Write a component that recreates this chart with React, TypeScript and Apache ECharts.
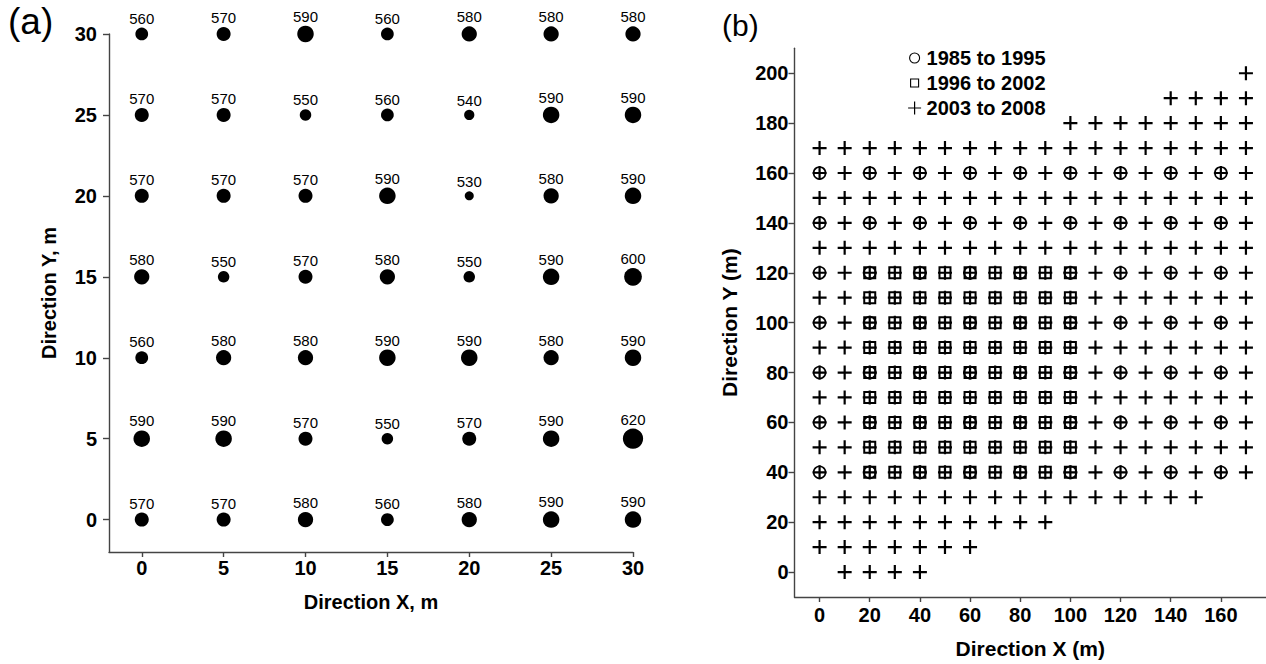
import React, { useEffect, useRef } from "react";
import * as echarts from "echarts";

const FONT = '"Liberation Sans", Arial, Helvetica, sans-serif';

// ---------- Panel (a) ----------
const aXs = [0, 5, 10, 15, 20, 25, 30];
const aTicks = [0, 5, 10, 15, 20, 25, 30];
// values per row (y), columns follow aXs
const aRowY = [30, 25, 20, 15, 10, 5, 0];
const aRow30 = [560, 570, 590, 560, 580, 580, 580];
const aRow25 = [570, 570, 550, 560, 540, 590, 590];
const aRow20 = [570, 570, 570, 590, 530, 580, 590];
const aRow15 = [580, 550, 570, 580, 550, 590, 600];
const aRow10 = [560, 580, 580, 590, 590, 580, 590];
const aRow5 = [590, 590, 570, 550, 570, 590, 620];
const aRow0 = [570, 570, 580, 560, 580, 590, 590];
const aRows = [aRow30, aRow25, aRow20, aRow15, aRow10, aRow5, aRow0];

// ---------- Panel (b) ----------
const bXTicks = [0, 20, 40, 60, 80, 100, 120, 140, 160];
const bYTicks = [0, 20, 40, 60, 80, 100, 120, 140, 160, 180, 200];

const circleXs = [0, 20, 40, 60, 80, 100, 120, 140, 160];
const circleYs = [40, 60, 80, 100, 120, 140, 160];

const squareXs = [20, 30, 40, 50, 60, 70, 80, 90, 100];
const squareYs = [40, 50, 60, 70, 80, 90, 100, 110, 120];

const fullRow = [0, 10, 20, 30, 40, 50, 60, 70, 80, 90, 100, 110, 120, 130, 140, 150, 160, 170];
const plusRows: [number, number[]][] = [
  [0, [10, 20, 30, 40]],
  [10, [0, 10, 20, 30, 40, 50, 60]],
  [20, [0, 10, 20, 30, 40, 50, 60, 70, 80, 90]],
  [30, [0, 10, 20, 30, 40, 50, 60, 70, 80, 90, 100, 110, 120, 130, 140, 150]],
  [40, fullRow],
  [50, fullRow],
  [60, fullRow],
  [70, fullRow],
  [80, fullRow],
  [90, fullRow],
  [100, fullRow],
  [110, fullRow],
  [120, fullRow],
  [130, fullRow],
  [140, fullRow],
  [150, fullRow],
  [160, fullRow],
  [170, fullRow],
  [180, [100, 110, 120, 130, 140, 150, 160, 170]],
  [190, [140, 150, 160, 170]],
  [200, [170]],
];

const legendNames = ["1985 to 1995", "1996 to 2002", "2003 to 2008"];

function cross(xs: number[], ys: number[]) {
  const out: number[][] = [];
  ys.forEach((y) => xs.forEach((x) => out.push([x, y])));
  return out;
}

export default function App() {
  const ref = useRef<HTMLDivElement>(null);

  useEffect(() => {
    if (!ref.current) return;
    const chart = echarts.init(ref.current, null, { renderer: "svg" });

    const aData: number[][] = [];
    aRows.forEach((row, i) => row.forEach((v, j) => aData.push([aXs[j], aRowY[i], v])));

    const plusData: number[][] = [];
    plusRows.forEach(([y, xs]) => xs.forEach((x) => plusData.push([x, y])));

    const axisLine = { show: true, onZero: false, lineStyle: { color: "#444", width: 1.4 } };
    const tickLabel = { fontSize: 20, fontWeight: "bold" as const, color: "#000", fontFamily: FONT };
    const nameStyle = { fontSize: 20, fontWeight: "bold" as const, color: "#000", fontFamily: FONT };

    const option: any = {
      animation: false,
      backgroundColor: "#fff",
      textStyle: { fontFamily: FONT },
      grid: [
        { left: 109, top: 34, width: 524, height: 518 },
        { left: 794.5, top: 48.3, width: 471.5, height: 551.7 },
      ],
      xAxis: [
        {
          gridIndex: 0,
          type: "value",
          min: -2,
          max: 30,
          axisLine,
          axisTick: { show: true, customValues: aTicks, length: 5, lineStyle: { color: "#444", width: 1.4 } },
          axisLabel: { ...tickLabel, customValues: aTicks, margin: 6 },
          splitLine: { show: false },
          name: "Direction X, m",
          nameLocation: "middle",
          nameGap: 40,
          nameTextStyle: nameStyle,
        },
        {
          gridIndex: 1,
          type: "value",
          min: -10,
          max: 178,
          axisLine,
          axisTick: { show: true, customValues: bXTicks, length: 5, lineStyle: { color: "#444", width: 1.4 } },
          axisLabel: { ...tickLabel, customValues: bXTicks, margin: 8 },
          splitLine: { show: false },
          name: "Direction X (m)",
          nameLocation: "middle",
          nameGap: 41,
          nameTextStyle: { ...nameStyle, fontSize: 21 },
        },
      ],
      yAxis: [
        {
          gridIndex: 0,
          type: "value",
          min: -2,
          max: 30,
          axisLine,
          axisTick: { show: true, customValues: aTicks, length: 6, lineStyle: { color: "#444", width: 1.4 } },
          axisLabel: { ...tickLabel, customValues: aTicks, margin: 12 },
          splitLine: { show: false },
          name: "Direction Y, m",
          nameLocation: "middle",
          nameGap: 50,
          nameRotate: 90,
          nameTextStyle: nameStyle,
        },
        {
          gridIndex: 1,
          type: "value",
          min: -10,
          max: 210,
          axisLine,
          axisTick: { show: true, customValues: bYTicks, length: 6, lineStyle: { color: "#444", width: 1.4 } },
          axisLabel: { ...tickLabel, customValues: bYTicks, margin: 6 },
          splitLine: { show: false },
          name: "Direction Y (m)",
          nameLocation: "middle",
          nameGap: 55,
          nameRotate: 90,
          nameTextStyle: { ...nameStyle, fontSize: 21 },
        },
      ],
      legend: {
        orient: "vertical",
        left: 907,
        top: 48,
        padding: 0,
        itemGap: 5,
        itemWidth: 14,
        itemHeight: 14,
        selectedMode: false,
        textStyle: { fontSize: 20, fontWeight: "bold", color: "#000", fontFamily: FONT },
        data: [
          {
            name: legendNames[0],
            icon: "path://M0,0M14,14M12,7A5,5,0,1,1,2,7A5,5,0,1,1,12,7Z",
            itemStyle: { color: "transparent", borderColor: "#000", borderWidth: 1.1, opacity: 1 },
          },
          {
            name: legendNames[1],
            icon: "path://M0,0M14,14M3,3H11V11H3Z",
            itemStyle: { color: "transparent", borderColor: "#000", borderWidth: 1.1, opacity: 1 },
          },
          {
            name: legendNames[2],
            icon: "path://M0,0M14,14M7,0.5V13.5M0.5,7H13.5",
            itemStyle: { color: "transparent", borderColor: "#000", borderWidth: 1.2, opacity: 1 },
          },
        ],
      },
      graphic: [
        { type: "text", left: 8, top: 3, style: { text: "(a)", fontSize: 37, fontFamily: FONT, fill: "#000" } },
        { type: "text", left: 722, top: 10, style: { text: "(b)", fontSize: 30, fontFamily: FONT, fill: "#000" } },
      ],
      series: [
        {
          type: "scatter",
          xAxisIndex: 0,
          yAxisIndex: 0,
          data: aData,
          symbol: "circle",
          symbolSize: (val: number[]) => 9 + (val[2] - 530) * 0.125,
          itemStyle: { color: "#000", opacity: 1 },
          label: {
            show: true,
            position: "top",
            distance: 2,
            fontSize: 15,
            color: "#000",
            fontFamily: FONT,
            formatter: (p: any) => String(p.value[2]),
          },
          emphasis: { disabled: true },
        },
        {
          name: legendNames[1],
          type: "scatter",
          xAxisIndex: 1,
          yAxisIndex: 1,
          data: cross(squareXs, squareYs),
          symbol: "rect",
          symbolSize: 11,
          itemStyle: { color: "transparent", borderColor: "#000", borderWidth: 2, opacity: 1 },
          emphasis: { disabled: true },
        },
        {
          name: legendNames[0],
          type: "scatter",
          xAxisIndex: 1,
          yAxisIndex: 1,
          data: cross(circleXs, circleYs),
          symbol: "circle",
          symbolSize: 12,
          itemStyle: { color: "transparent", borderColor: "#000", borderWidth: 1.6, opacity: 1 },
          emphasis: { disabled: true },
        },
        {
          name: legendNames[2],
          type: "scatter",
          xAxisIndex: 1,
          yAxisIndex: 1,
          data: plusData,
          symbol: "path://M7,0V14M0,7H14",
          symbolSize: 14,
          itemStyle: { color: "transparent", borderColor: "#000", borderWidth: 2.2, opacity: 1 },
          emphasis: { disabled: true },
        },
      ],
    };

    chart.setOption(option);
    return () => chart.dispose();
  }, []);

  return (
    <div
      ref={ref}
      style={{ position: "fixed", left: 0, top: 0, width: 1266, height: 664, background: "#fff" }}
    />
  );
}
